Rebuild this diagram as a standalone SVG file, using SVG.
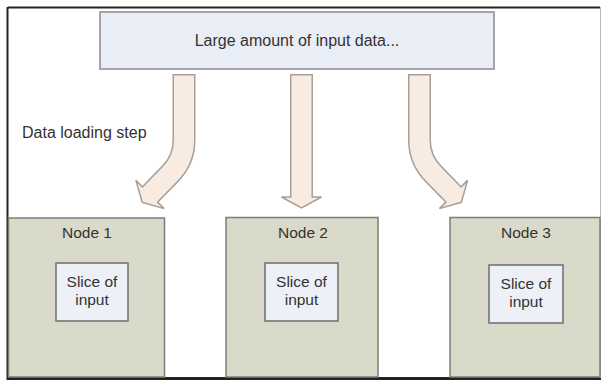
<svg xmlns="http://www.w3.org/2000/svg" width="602" height="381" viewBox="0 0 602 381">
<style>
text{font-family:"Liberation Sans",Arial,sans-serif;font-size:15.5px;fill:#333;text-anchor:middle}
.node{fill:#d9dac9;stroke:#7d7e76;stroke-width:1.5}
.slice{fill:#eef0f7;stroke:#6e6e6e;stroke-width:1.5}
.aout{fill:none;stroke:#a79f98;stroke-width:23}
.ain{fill:none;stroke:#f8ece2;stroke-width:20}
.head{fill:#f8ece2;stroke:#a79f98;stroke-width:1.5;stroke-linejoin:miter}
</style>
<rect x="0" y="0" width="602" height="381" fill="#fff"/>
<g id="frame">
<line x1="8" y1="7.5" x2="600" y2="7.5" stroke="#222" stroke-width="2"/>
<line x1="7.5" y1="7" x2="7.5" y2="380" stroke="#222" stroke-width="2"/>
<line x1="7" y1="378.5" x2="601" y2="378.5" stroke="#222" stroke-width="3"/>
<line x1="600.5" y1="7" x2="600.5" y2="378" stroke="#bbb" stroke-width="1"/>
</g>
<g id="input-data">
<rect x="100" y="12" width="394" height="57" fill="#e9edf6" stroke="#a3a5aa" stroke-width="2"/>
<text x="297" y="46" style="font-size:16px">Large amount of input data...</text>
</g>
<g id="label-loading">
<text x="22" y="138" style="text-anchor:start;font-size:16px">Data loading step</text>
</g>
<g id="connectors">
<path class="aout" d="M184,74 V140 Q184,160 170,174 L150,194.5"/>
<polygon class="head" points="135.9,180.4 164.1,208.6 142.2,202.3"/>
<path class="ain" d="M184,75.5 V140 Q184,160 170,174 L148.5,196"/>
<path class="aout" d="M301.5,74 V197"/>
<polygon class="head" points="281.5,197 321.5,197 301.5,208"/>
<path class="ain" d="M301.5,75.5 V199"/>
<path class="aout" d="M419.5,74 V140 Q419.5,160 433.5,174 L453.5,194.5"/>
<polygon class="head" points="467.6,180.4 439.4,208.6 461.3,202.3"/>
<path class="ain" d="M419.5,75.5 V140 Q419.5,160 433.5,174 L455,196"/>
</g>
<g id="node1">
<rect class="node" x="8.5" y="218" width="156" height="159"/>
<text x="87" y="238">Node 1</text>
<rect class="slice" x="56" y="263" width="72" height="58"/>
<text x="92" y="287">Slice of</text>
<text x="92" y="305">input</text>
</g>
<g id="node2">
<rect class="node" x="226" y="217.5" width="152" height="159.5"/>
<text x="303" y="238">Node 2</text>
<rect class="slice" x="265" y="263" width="73" height="58"/>
<text x="301.5" y="287">Slice of</text>
<text x="301.5" y="305">input</text>
</g>
<g id="node3">
<rect class="node" x="450" y="217.5" width="150" height="159.5"/>
<text x="526" y="238">Node 3</text>
<rect class="slice" x="489" y="265" width="74" height="58"/>
<text x="526" y="289">Slice of</text>
<text x="526" y="307">input</text>
</g>
</svg>
